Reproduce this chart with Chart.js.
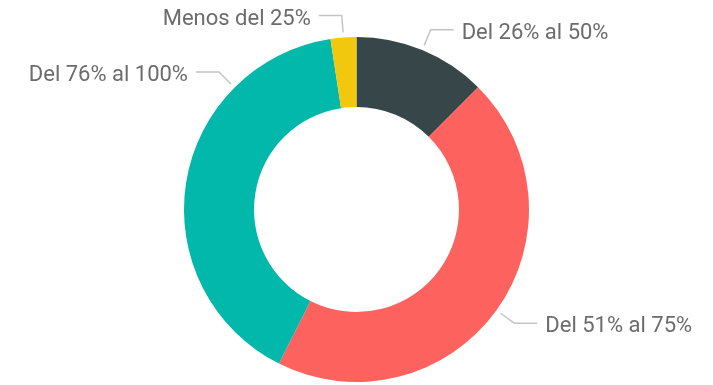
<!DOCTYPE html>
<html>
<head>
<meta charset="utf-8">
<script src="https://cdn.jsdelivr.net/npm/chart.js@4/dist/chart.umd.min.js"></script>
<style>
  html, body { margin: 0; padding: 0; background: #fff; }
  #wrap { width: 713px; height: 385px; position: relative; }
</style>
</head>
<body>
<div id="wrap"><canvas id="c" width="713" height="385"></canvas></div>
<script>
// Segment categories, clockwise from 12 o'clock
const categories = ['Del 26% al 50%', 'Del 51% al 75%', 'Del 76% al 100%', 'Menos del 25%'];
// Share of responses per category (%)
const shares = [12.45, 44.97, 40.17, 2.41];
const colors = ['#374649', '#FD625E', '#01B8AA', '#F2C80F'];

// Outside labels with leader lines; a label may be pinned to a custom angle
// (degrees clockwise from the top) instead of its slice's mid-angle.
const leaderLabels = {
  id: 'leaderLabels',
  afterDatasetsDraw(chart, args, opts) {
    const ctx = chart.ctx;
    const meta = chart.getDatasetMeta(0);
    ctx.save();
    ctx.font = opts.font;
    ctx.lineWidth = 1.5;
    ctx.strokeStyle = opts.lineColor;
    ctx.fillStyle = opts.textColor;
    ctx.textBaseline = 'alphabetic';
    meta.data.forEach((arc, i) => {
      const { x, y, startAngle, endAngle, outerRadius } = arc.getProps(['x', 'y', 'startAngle', 'endAngle', 'outerRadius'], true);
      let a = (startAngle + endAngle) / 2;
      const pin = opts.pinned[categories[i]];
      if (pin !== undefined) a = (pin - 90) * Math.PI / 180;
      const dx = Math.cos(a), dy = Math.sin(a);
      const r1 = outerRadius + 5, r2 = outerRadius + 22;
      const p1 = { x: x + r1 * dx, y: y + r1 * dy };
      const p2 = { x: x + r2 * dx, y: y + r2 * dy };
      const side = dx < 0 ? -1 : 1;
      const p3 = { x: p2.x + side * 23, y: p2.y };
      ctx.beginPath();
      ctx.moveTo(p1.x, p1.y);
      ctx.lineTo(p2.x, p2.y);
      ctx.lineTo(p3.x, p3.y);
      ctx.stroke();
      ctx.textAlign = side < 0 ? 'right' : 'left';
      ctx.fillText(categories[i], p3.x + side * 8, p3.y + 9);
    });
    ctx.restore();
  }
};

new Chart(document.getElementById('c'), {
  type: 'doughnut',
  data: {
    labels: categories,
    datasets: [{
      data: shares,
      backgroundColor: colors,
      borderWidth: 0,
      hoverOffset: 0
    }]
  },
  options: {
    responsive: false,
    animation: false,
    cutout: '59.4%',
    layout: { padding: { top: 37, bottom: 3, left: 0, right: 0 } },
    plugins: {
      legend: { display: false },
      tooltip: { enabled: false },
      leaderLabels: {
        font: '22px Roboto',
        textColor: '#6c6c6c',
        lineColor: '#c4c4c4',
        pinned: { 'Del 76% al 100%': 315 }
      }
    }
  },
  plugins: [leaderLabels]
});
</script>
</body>
</html>
